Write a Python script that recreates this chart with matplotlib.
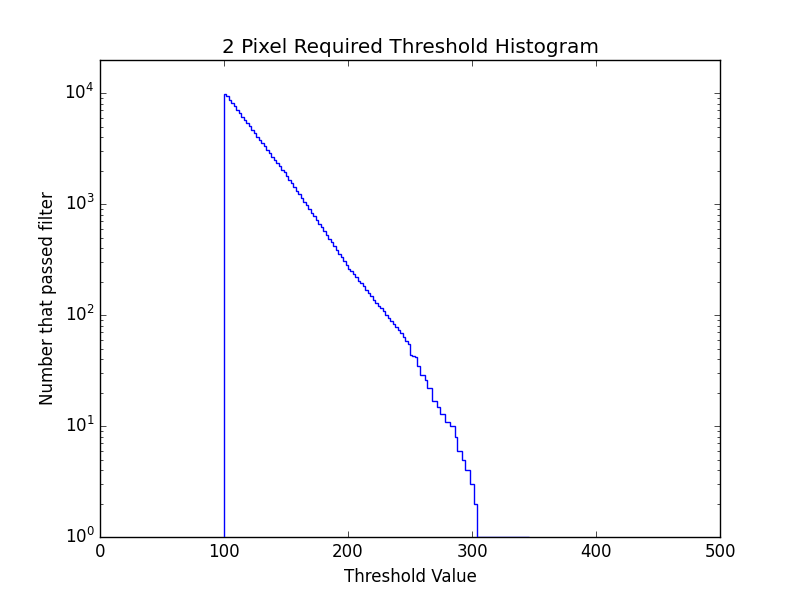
import numpy as np
import matplotlib
matplotlib.use('Agg')
import matplotlib.pyplot as plt

plt.style.use('classic')

# bin starts (threshold values), bins of width 2
thresholds = np.arange(100, 346, 2)
bin_width = 2

# counts, one per bin
counts = [
    9812, 9390, 8705, 8160, 7580, 7064, 6620, 6155, 5760, 5349,
    5012, 4671, 4380, 4060, 3805, 3540, 3318, 3082, 2890, 2680,
    2515, 2332, 2196, 2031,
    1950, 1800, 1660, 1550, 1430, 1320, 1230, 1135, 1047, 977,
    902, 832, 776, 716, 661, 617, 569, 525, 490, 452,
    417, 389, 359, 331, 309, 285, 263,
    251, 234, 221, 204, 195, 182, 168, 158, 148, 138,
    130, 120, 115, 110, 101, 95, 89, 83, 79, 74,
    69, 63, 59, 55,
    44, 43, 42, 35, 29, 29, 26, 22, 22, 17,
    17, 15, 13, 13, 11, 11, 10, 10, 8, 6,
    6, 5, 4, 4, 3, 3, 2,
    1, 1, 1, 1, 1, 1, 1, 1, 1, 1,
    1, 1, 1, 1, 1, 1, 1, 1, 1, 1, 1,
]

edges = np.append(thresholds, thresholds[-1] + bin_width)

fig = plt.figure(figsize=(8, 5.97), dpi=100)
ax = fig.add_subplot(111)
ax.stairs(counts, edges, baseline=1, color='b', zorder=3)
ax.set_yscale('log')
ax.set_xlim(0, 500)
ax.set_ylim(1, 2e4)
ax.set_title('2 Pixel Required Threshold Histogram')
ax.set_xlabel('Threshold Value')
ax.set_ylabel('Number that passed filter')

fig.savefig('out.png', dpi=100)
